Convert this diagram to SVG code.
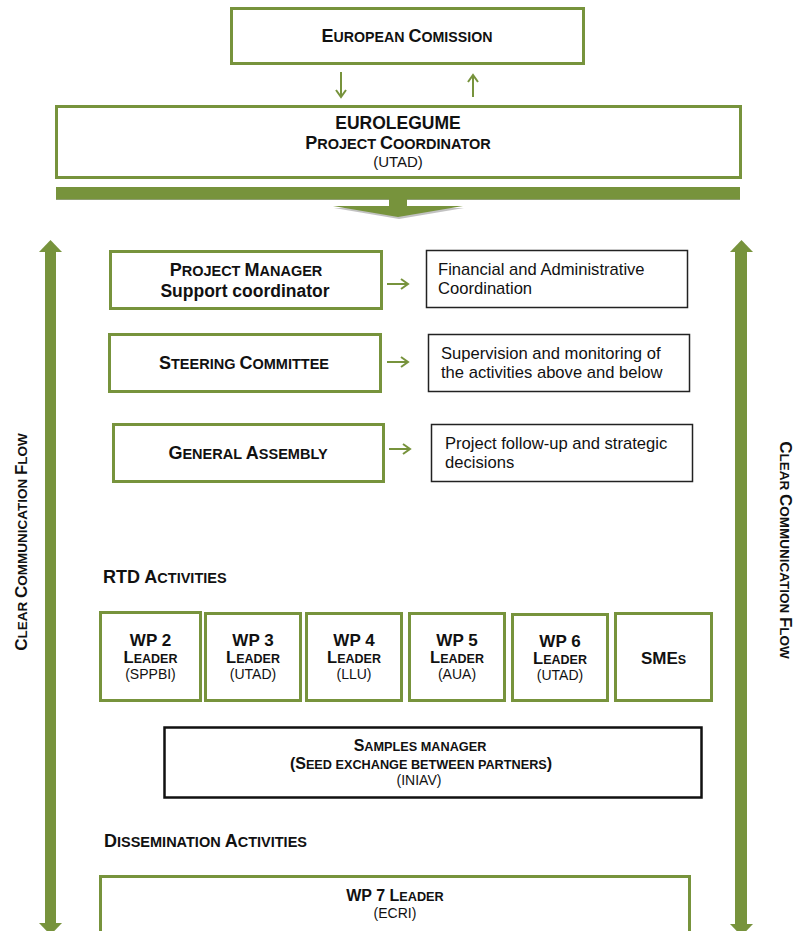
<svg xmlns="http://www.w3.org/2000/svg" width="800" height="931" viewBox="0 0 800 931">
<style>
text{font-family:"Liberation Sans",Arial,sans-serif;fill:#111;}
.g{fill:#fff;stroke:#77933C;stroke-width:3;}
.k{fill:#fff;stroke:#222;stroke-width:1.5;}
.k2{fill:#fff;stroke:#111;stroke-width:2.5;}
.b{font-weight:bold;}
.c{text-anchor:middle;}
.ln{stroke:#77933C;stroke-width:2;fill:none;}
.fill{fill:#77933C;}
.d{font-size:16.6px;}
.r{font-size:14px;}
</style>
<defs>
<marker id="v" markerWidth="12" markerHeight="12" refX="9" refY="6" orient="auto" markerUnits="userSpaceOnUse">
<path d="M2,1 L9,6 L2,11" fill="none" stroke="#77933C" stroke-width="2"/>
</marker>
</defs>

<g id="european-commission">
<rect class="g" x="231.5" y="8.5" width="352" height="55"/>
<text class="b c" x="407" y="42" font-size="18">E<tspan font-size="14.2">UROPEAN </tspan>C<tspan font-size="14.2">OMISSION</tspan></text>
</g>

<g id="eurolegume">
<rect class="g" x="56.5" y="106.5" width="684" height="71"/>
<text class="b c" x="398" y="129" font-size="17.5">EUROLEGUME</text>
<text class="b c" x="398" y="149" font-size="18">P<tspan font-size="14.5">ROJECT </tspan>C<tspan font-size="14.5">OORDINATOR</tspan></text>
<text class="c" x="398" y="167" font-size="15">(UTAD)</text>
</g>

<g id="project-manager">
<rect class="g" x="110.5" y="251.5" width="271" height="57"/>
<text class="b c" x="246" y="276" font-size="18">P<tspan font-size="14.5">ROJECT </tspan>M<tspan font-size="14.5">ANAGER</tspan></text>
<text class="b c" x="245" y="297" font-size="17.5">Support coordinator</text>
</g>
<g id="financial">
<rect class="k" x="426.5" y="250.5" width="261" height="57"/>
<text class="d" x="438" y="275">Financial and Administrative</text>
<text class="d" x="438" y="294">Coordination</text>
</g>

<g id="steering-committee">
<rect class="g" x="109.5" y="334.5" width="271" height="57"/>
<text class="b c" x="244" y="369" font-size="18">S<tspan font-size="14.5">TEERING </tspan>C<tspan font-size="14.5">OMMITTEE</tspan></text>
</g>
<g id="supervision">
<rect class="k" x="428.5" y="334.5" width="261" height="57"/>
<text class="d" x="441" y="359">Supervision and monitoring of</text>
<text class="d" x="441" y="378">the activities above and below</text>
</g>

<g id="general-assembly">
<rect class="g" x="113.5" y="424.5" width="270" height="57"/>
<text class="b c" x="248" y="459" font-size="18">G<tspan font-size="14.5">ENERAL </tspan>A<tspan font-size="14.5">SSEMBLY</tspan></text>
</g>
<g id="follow-up">
<rect class="k" x="431.5" y="424.5" width="261" height="57"/>
<text class="d" x="445" y="449">Project follow-up and strategic</text>
<text class="d" x="445" y="468">decisions</text>
</g>

<g id="rtd-label">
<text class="b" x="103" y="583" font-size="18">RTD A<tspan font-size="14.5">CTIVITIES</tspan></text>
</g>

<g id="wp2">
<rect class="g" x="100.5" y="612.5" width="100" height="88"/>
<text class="b c" x="150.5" y="646" font-size="17">WP 2</text>
<text class="b c" x="150.5" y="663" font-size="16.5">L<tspan font-size="12.5">EADER</tspan></text>
<text class="c r" x="150.5" y="679">(SPPBI)</text>
</g>
<g id="wp3">
<rect class="g" x="205.5" y="613.5" width="95" height="87"/>
<text class="b c" x="253" y="646" font-size="17">WP 3</text>
<text class="b c" x="253" y="663" font-size="16.5">L<tspan font-size="12.5">EADER</tspan></text>
<text class="c r" x="253" y="679">(UTAD)</text>
</g>
<g id="wp4">
<rect class="g" x="306.5" y="613.5" width="95" height="87"/>
<text class="b c" x="354" y="646" font-size="17">WP 4</text>
<text class="b c" x="354" y="663" font-size="16.5">L<tspan font-size="12.5">EADER</tspan></text>
<text class="c r" x="354" y="679">(LLU)</text>
</g>
<g id="wp5">
<rect class="g" x="409.5" y="613.5" width="95" height="87"/>
<text class="b c" x="457" y="646" font-size="17">WP 5</text>
<text class="b c" x="457" y="663" font-size="16.5">L<tspan font-size="12.5">EADER</tspan></text>
<text class="c r" x="457" y="679">(AUA)</text>
</g>
<g id="wp6">
<rect class="g" x="512.5" y="614.5" width="95" height="86"/>
<text class="b c" x="560" y="647" font-size="17">WP 6</text>
<text class="b c" x="560" y="664" font-size="16.5">L<tspan font-size="12.5">EADER</tspan></text>
<text class="c r" x="560" y="680">(UTAD)</text>
</g>
<g id="smes">
<rect class="g" x="615.5" y="613.5" width="96" height="87"/>
<text class="b c" x="663.5" y="664" font-size="17">SME<tspan font-size="12.5">S</tspan></text>
</g>

<g id="samples-manager">
<rect class="k2" x="164.5" y="727.5" width="537" height="70"/>
<text class="b c" x="420" y="751" font-size="16">S<tspan font-size="12.7">AMPLES MANAGER</tspan></text>
<text class="b c" x="421" y="769" font-size="16">(S<tspan font-size="12.7">EED EXCHANGE BETWEEN PARTNERS</tspan>)</text>
<text class="c r" x="419" y="785">(INIAV)</text>
</g>

<g id="dissemination-label">
<text class="b" x="104" y="847" font-size="18">D<tspan font-size="14.5">ISSEMINATION </tspan>A<tspan font-size="14.5">CTIVITIES</tspan></text>
</g>

<g id="wp7">
<rect class="g" x="100.5" y="876.5" width="589" height="60"/>
<text class="b c" x="395" y="901" font-size="16">WP 7 L<tspan font-size="12.7">EADER</tspan></text>
<text class="c r" x="395" y="918">(ECRI)</text>
</g>

<g id="side-labels">
<text class="b c" transform="translate(27,542) rotate(-90)" font-size="17">C<tspan font-size="13.5">LEAR </tspan>C<tspan font-size="13.5">OMMUNICATION </tspan>F<tspan font-size="13.5">LOW</tspan></text>
<text class="b c" transform="translate(780,550) rotate(90)" font-size="17">C<tspan font-size="13.5">LEAR </tspan>C<tspan font-size="13.5">OMMUNICATION </tspan>F<tspan font-size="13.5">LOW</tspan></text>
</g>

<g id="connectors">
<line class="ln" x1="341" y1="72" x2="341" y2="97" marker-end="url(#v)"/>
<line class="ln" x1="473" y1="97" x2="473" y2="75" marker-end="url(#v)"/>
<line class="ln" x1="387" y1="284" x2="408" y2="284" marker-end="url(#v)"/>
<line class="ln" x1="387" y1="362" x2="408" y2="362" marker-end="url(#v)"/>
<line class="ln" x1="389" y1="449" x2="410" y2="449" marker-end="url(#v)"/>
<polygon points="334,208 464,208 399,219" fill="#999" opacity="0.6"/>
<rect x="56" y="188" width="684" height="12" fill="#a9a9a9"/>
<rect class="fill" x="56" y="187" width="684" height="12.5"/>
<rect class="fill" x="389" y="199" width="18" height="8"/>
<polygon class="fill" points="333,206 463,206 398,217"/>
<rect class="fill" x="45" y="251" width="11" height="673"/>
<polygon class="fill" points="39,252 50.5,240 62,252"/>
<polygon class="fill" points="39,923 50.5,935 62,923"/>
<rect class="fill" x="735" y="251" width="12" height="674"/>
<polygon class="fill" points="730,252 741.5,240 753,252"/>
<polygon class="fill" points="730,924 741.5,936 753,924"/>
</g>
</svg>
